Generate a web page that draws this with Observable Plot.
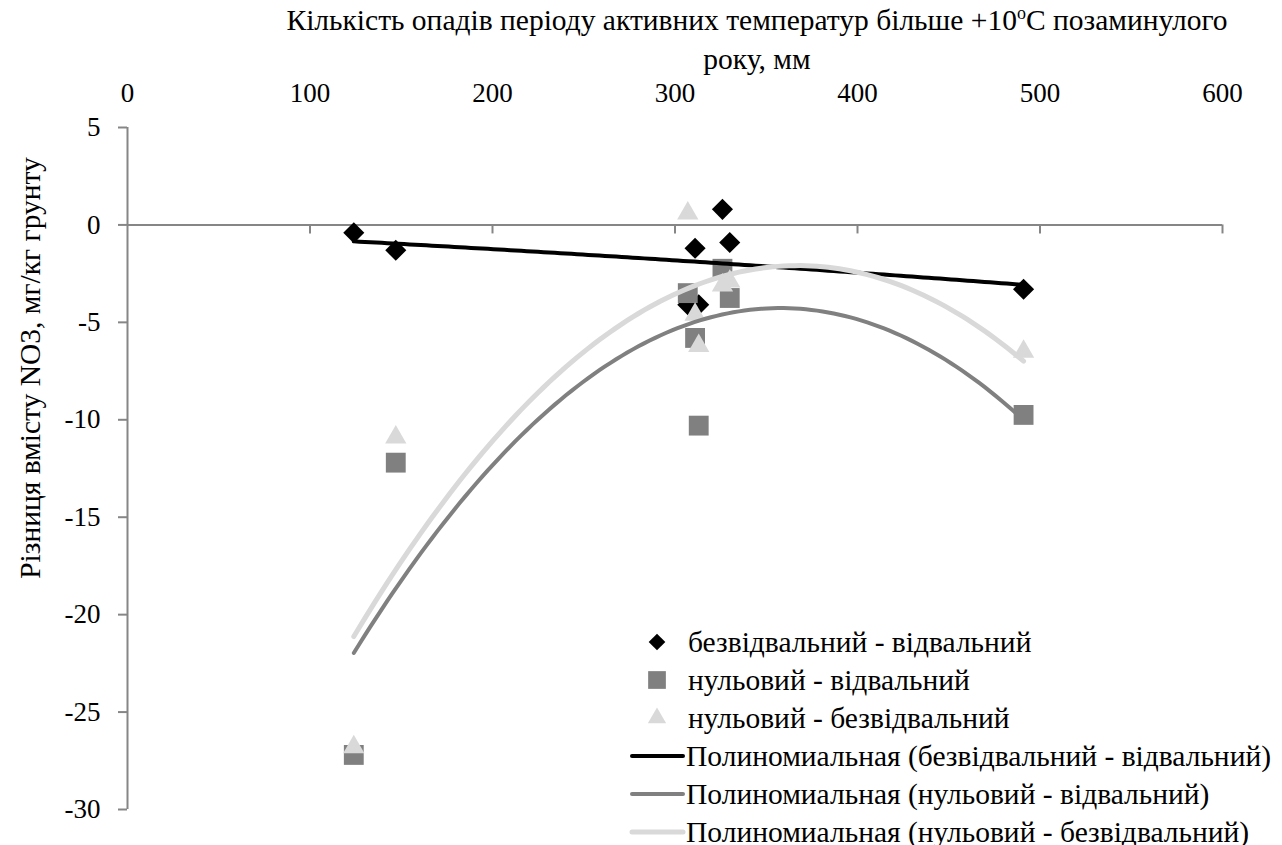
<!DOCTYPE html>
<html><head><meta charset="utf-8">
<script src="https://cdn.jsdelivr.net/npm/d3@7"></script>
<script src="https://cdn.jsdelivr.net/npm/@observablehq/plot@0.6"></script>
<style>
body{margin:0;background:#fff;}
#wrap{position:relative;width:1282px;height:845px;font-family:"Liberation Serif","Times New Roman",serif;color:#000;}
#xtitle{position:absolute;top:3px;left:207px;width:1100px;text-align:center;font-size:29.5px;line-height:35px;z-index:2;}
#xtitle sup{font-size:18px;vertical-align:0;position:relative;top:-11px;}
#ytitle{position:absolute;left:30px;top:368px;transform:translate(-50%,-50%) rotate(-90deg);white-space:nowrap;font-size:29.5px;z-index:2;}
#legend{position:absolute;left:628px;top:623px;font-size:29.5px;z-index:2;}
.row{height:38px;display:flex;align-items:center;white-space:nowrap;}
.row svg{flex:none;}
</style></head><body><div id="wrap"><div id="xtitle">Кількість опадів періоду активних температур більше +10<sup>о</sup>С позаминулого<br>року, мм</div><div id="ytitle"></div><div id="legend"></div></div>
<script>
// ---- data ----
const xValues = [124, 147, 307, 311, 313, 326, 330, 491];
const bezVidv = [-0.4, -1.3, -4.1, -1.2, -4.1, 0.8, -0.9, -3.3];          // безвідвальний - відвальний
const nulVidv = [-27.2, -12.2, -3.5, -5.8, -10.3, -2.25, -3.75, -9.75];    // нульовий - відвальний
const nulBez  = [-26.8, -10.9, 0.6, -4.6, -6.2, -3.1, -2.9, -6.5];        // нульовий - безвідвальний
const seriesNames = ["безвідвальний - відвальний", "нульовий - відвальний", "нульовий - безвідвальний"];
const trendNames = seriesNames.map(s => `Полиномиальная (${s})`);
const xTicks = [0, 100, 200, 300, 400, 500, 600];
const yTicks = [5, 0, -5, -10, -15, -20, -25, -30];
const yTitle = "Різниця вмісту NO3, мг/кг грунту";

const colors = ["#000000", "#808080", "#d9d9d9"];
const symbols = ["diamond2", "square", "triangle"];
const radii = [9.5, 11.2, 7.9];

// ---- second-order polynomial trendline (least squares) ----
function polyFit2(xs, ys) {
  const u = xs.map(x => x / 100);
  const S = [0,0,0,0,0], T = [0,0,0];
  u.forEach((x, i) => {
    for (let k = 0; k < 5; k++) S[k] += x ** k;
    for (let k = 0; k < 3; k++) T[k] += ys[i] * x ** k;
  });
  const A = [[S[0],S[1],S[2],T[0]],[S[1],S[2],S[3],T[1]],[S[2],S[3],S[4],T[2]]];
  for (let c = 0; c < 3; c++) {
    for (let r = c + 1; r < 3; r++) {
      const f = A[r][c] / A[c][c];
      for (let k = c; k < 4; k++) A[r][k] -= f * A[c][k];
    }
  }
  const b = [0,0,0];
  for (let r = 2; r >= 0; r--) {
    let s = A[r][3];
    for (let k = r + 1; k < 3; k++) s -= A[r][k] * b[k];
    b[r] = s / A[r][r];
  }
  return x => b[0] + b[1] * (x / 100) + b[2] * (x / 100) ** 2;
}

const seriesValues = [bezVidv, nulVidv, nulBez];
const points = seriesValues.map((vals, s) => vals.map((v, i) => ({x: xValues[i], y: v, s})));
const xmin = d3.min(xValues), xmax = d3.max(xValues);
const trends = seriesValues.map((vals, s) => {
  const f = polyFit2(xValues, vals);
  return d3.range(0, 121).map(i => {
    const x = xmin + (xmax - xmin) * i / 120;
    return {x, y: f(x), s};
  });
});

const axisColor = "#868686";
const fs = 27;
const font = "Liberation Serif, Times New Roman, serif";

const chart = Plot.plot({
  width: 1282, height: 845,
  marginLeft: 127, marginRight: 60, marginTop: 127, marginBottom: 36,
  style: {fontFamily: font, background: "white", color: "black"},
  x: {domain: [0, 600]},
  y: {domain: [-30, 5]},
  marks: [
    Plot.ruleX([0], {stroke: axisColor, strokeWidth: 2}),
    Plot.ruleY([0], {stroke: axisColor, strokeWidth: 2}),
    Plot.ruleX(xTicks.slice(1), {x: d => d, y1: 0, y2: 0, insetBottom: -9, stroke: axisColor, strokeWidth: 2}),
    Plot.axisY({ticks: yTicks, tickFormat: d => String(d), tickSize: 9, tickPadding: 18, fontSize: fs, stroke: axisColor, strokeWidth: 2, fill: "black", label: null, fontFamily: font}),
    Plot.axisX({anchor: "top", ticks: xTicks, tickFormat: d => String(d), tickSize: 0, tickPadding: 26, fontSize: fs, fill: "black", label: null, fontFamily: font}),
    ...points.map((pts, s) => Plot.dot(pts, {x: "x", y: "y", symbol: symbols[s], r: radii[s], fill: colors[s], stroke: "none"})),
    ...trends.map((t, s) => Plot.line(t, {x: "x", y: "y", stroke: colors[s], strokeWidth: s === 2 ? 5 : 4, strokeLinecap: "round"}))
  ]
});
const wrap = document.getElementById("wrap");
wrap.prepend(chart);
chart.style.position = "absolute"; chart.style.left = "0"; chart.style.top = "0";
document.getElementById("ytitle").textContent = yTitle;

// ---- legend ----
const legend = document.getElementById("legend");
const legendSizes = [7.5, 10, 6.8];
const symbolFns = {diamond2: d3.symbolDiamond2, square: d3.symbolSquare, triangle: d3.symbolTriangle};
seriesNames.forEach((name, s) => {
  const row = document.createElement("div"); row.className = "row";
  const path = d3.symbol(symbolFns[symbols[s]], Math.PI * legendSizes[s] ** 2)();
  row.innerHTML = `<svg width="60" height="38"><path transform="translate(29,19)" d="${path}" fill="${colors[s]}"/></svg><span>${name}</span>`;
  legend.appendChild(row);
});
trendNames.forEach((name, s) => {
  const row = document.createElement("div"); row.className = "row";
  row.innerHTML = `<svg width="58" height="38"><line x1="4" x2="55" y1="19" y2="19" stroke="${colors[s]}" stroke-width="${s===2?5:4}" stroke-linecap="round"/></svg><span>${name}</span>`;
  legend.appendChild(row);
});
</script></body></html>
